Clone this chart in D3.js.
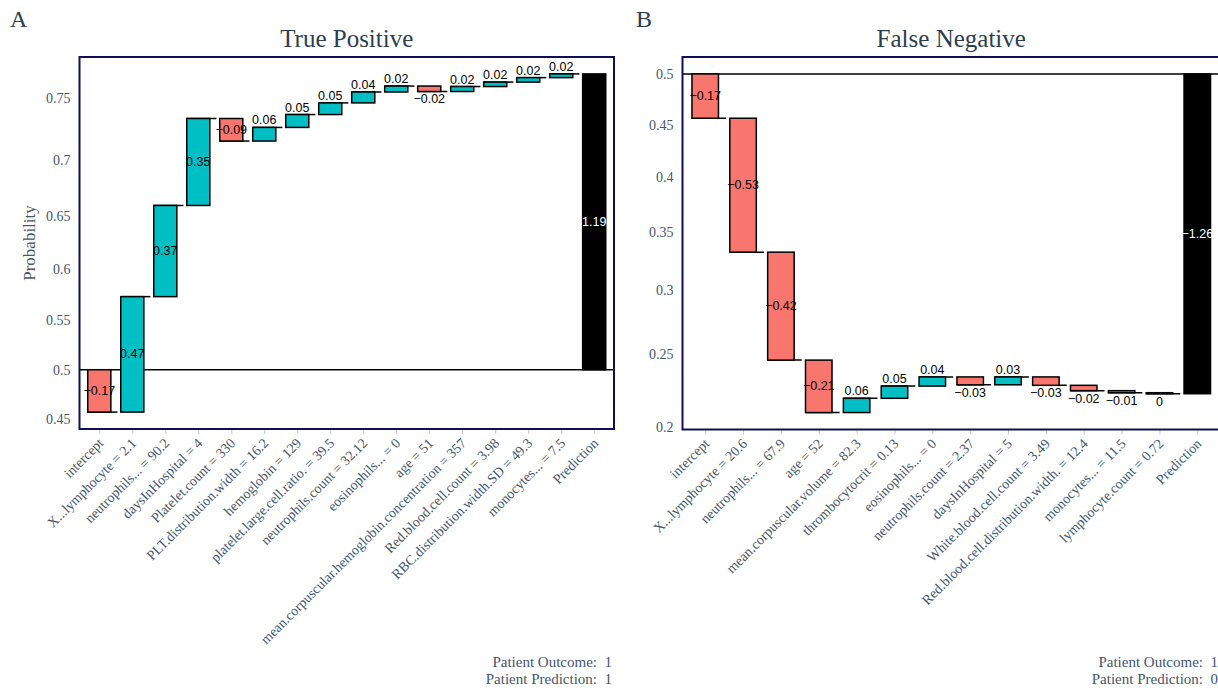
<!DOCTYPE html>
<html>
<head>
<meta charset="utf-8">
<script src="https://cdn.jsdelivr.net/npm/d3@7"></script>
<style>
  body { margin: 0; background: #fff; }
  svg { display: block; }
  text { font-family: "Liberation Serif", serif; }
</style>
</head>
<body>
<div id="chart"></div>
<script>
// Panel A: True Positive patient (contributions on log-odds scale)
const tpFeatures = ["intercept", "X...lymphocyte = 2.1", "neutrophils... = 90.2", "daysInHospital = 4",
  "Platelet.count = 330", "PLT.distribution.width = 16.2", "hemoglobin = 129",
  "platelet.large.cell.ratio. = 39.5", "neutrophils.count = 32.12", "eosinophils... = 0", "age = 51",
  "mean.corpuscular.hemoglobin.concentration = 357", "Red.blood.cell.count = 3.98",
  "RBC.distribution.width.SD = 49.3", "monocytes... = 7.5"];
const tpValues = [-0.171, 0.466, 0.368, 0.351, -0.091, 0.055, 0.052, 0.047, 0.044, 0.024, -0.022, 0.02, 0.018, 0.018, 0.015];
const tpTicks = [0.45, 0.5, 0.55, 0.6, 0.65, 0.7, 0.75];
const tpTickLabels = ["0.45", "0.5", "0.55", "0.6", "0.65", "0.7", "0.75"];
const tpPatient = ["Patient Outcome:\u00a0 1", "Patient Prediction:\u00a0 1"];

// Panel B: False Negative patient
const fnFeatures = ["intercept", "X...lymphocyte = 20.6", "neutrophils... = 67.9", "age = 52",
  "mean.corpuscular.volume = 82.3", "thrombocytocrit = 0.13", "eosinophils... = 0",
  "neutrophils.count = 2.37", "daysInHospital = 5", "White.blood.cell.count = 3.49",
  "Red.blood.cell.distribution.width. = 12.4", "monocytes... = 11.5", "lymphocyte.count = 0.72"];
const fnValues = [-0.174, -0.526, -0.424, -0.206, 0.056, 0.048, 0.036, -0.031, 0.031, -0.033, -0.021, -0.008, -0.004];
const fnTicks = [0.2, 0.25, 0.3, 0.35, 0.4, 0.45, 0.5];
const fnTickLabels = ["0.2", "0.25", "0.3", "0.35", "0.4", "0.45", "0.5"];
const fnPatient = ["Patient Outcome:\u00a0 1", "Patient Prediction:\u00a0 0"];

const width = 1218, height = 688;
const textColor = "#2c3e50";
const tickColor = "#46566b";
const posColor = "#00BFC4", negColor = "#F8766D";

const logit = p => Math.log(p / (1 - p));
const fmt = v => {
  const r = Math.round(v * 100) / 100;
  return String(r === 0 ? 0 : r).replace("-", "\u2212");
};

const svg = d3.select("#chart").append("svg")
  .attr("width", width)
  .attr("height", height);

function drawPanel(o) {
  const g = svg.append("g");
  const cats = o.features.concat(["Prediction"]);
  const ends = Array.from(d3.cumsum(o.values));
  const total = ends[ends.length - 1];
  const rows = o.values.map((v, i) => ({
    cat: cats[i], value: v, start: i ? ends[i - 1] : 0, end: ends[i], kind: v < 0 ? "neg" : "pos"
  }));
  rows.push({ cat: "Prediction", value: total, start: 0, end: total, kind: "pred" });

  const x = d3.scalePoint().domain(cats).range([o.left, o.right]).padding(0.6);
  const step = x.step();
  const bw = step * 0.7;

  const lo = d3.min(rows, d => Math.min(d.start, d.end));
  const hi = d3.max(rows, d => Math.max(d.start, d.end));
  const pad = (hi - lo) * 0.05;
  const y = d3.scaleLinear().domain([lo - pad, hi + pad]).range([o.bottom, o.top]);

  // panel letter + title
  g.append("text").attr("x", o.letterX).attr("y", 27)
    .style("font-size", "24px").attr("fill", textColor).text(o.letter);
  g.append("text").attr("x", (o.left + o.right) / 2).attr("y", 47)
    .attr("text-anchor", "middle").style("font-size", "25px").attr("fill", textColor).text(o.title);

  // y axis (probability ticks on logit scale)
  const yAxis = g.append("g")
    .attr("transform", `translate(${o.left},0)`)
    .call(d3.axisLeft(y).tickValues(o.ticks.map(logit)).tickFormat((d, i) => o.tickLabels[i]).tickSize(0).tickPadding(9));
  yAxis.select(".domain").remove();
  yAxis.selectAll("text").style("font-size", "14px").style("font-family", "Liberation Serif").attr("fill", tickColor);

  if (o.yLabel) {
    g.append("text")
      .attr("transform", `translate(35,${(o.top + o.bottom) / 2}) rotate(-90)`)
      .attr("text-anchor", "middle").style("font-size", "17px").attr("fill", tickColor)
      .text(o.yLabel);
  }

  // x axis
  const xAxis = g.append("g")
    .attr("transform", `translate(0,${o.bottom})`)
    .call(d3.axisBottom(x).tickSize(5).tickSizeOuter(0).tickFormat(""));
  xAxis.select(".domain").remove();
  xAxis.selectAll("line").attr("stroke", "#c8c8c8");

  g.selectAll("text.xlab")
    .data(cats)
    .enter()
    .append("text")
    .attr("class", "xlab")
    .attr("transform", d => `translate(${x(d) + 5},${o.bottom + 15}) rotate(-45)`)
    .attr("text-anchor", "end")
    .style("font-size", "14px")
    .attr("fill", tickColor)
    .text(d => d);

  // reference line at p = 0.5
  g.append("line")
    .attr("x1", o.left).attr("x2", o.right)
    .attr("y1", y(0)).attr("y2", y(0))
    .attr("stroke", "#000").attr("stroke-width", 1.5);

  // connectors
  g.selectAll("line.conn")
    .data(rows.filter(d => d.kind !== "pred"))
    .enter()
    .append("line")
    .attr("class", "conn")
    .attr("x1", d => x(d.cat) - bw / 2)
    .attr("x2", d => x(d.cat) + bw / 2 + step * 0.2)
    .attr("y1", d => y(d.end)).attr("y2", d => y(d.end))
    .attr("stroke", "#000").attr("stroke-width", 1.5);

  // bars
  g.selectAll("rect.bar")
    .data(rows)
    .enter()
    .append("rect")
    .attr("class", "bar")
    .attr("x", d => x(d.cat) - bw / 2)
    .attr("width", bw)
    .attr("y", d => y(Math.max(d.start, d.end)))
    .attr("height", d => Math.abs(y(d.start) - y(d.end)))
    .attr("fill", d => d.kind === "pred" ? "#000" : d.kind === "neg" ? negColor : posColor)
    .attr("stroke", "#000")
    .attr("stroke-width", 1.5);

  // value labels: inside big bars, outside (past the end) for small ones
  g.selectAll("text.val")
    .data(rows)
    .enter()
    .append("text")
    .attr("class", "val")
    .attr("x", d => x(d.cat))
    .attr("y", d => {
      if (d.kind === "pred" || Math.abs(d.value) >= 0.08) return y((d.start + d.end) / 2);
      return d.value >= 0 ? y(d.end) - 7 : y(d.end) + 8;
    })
    .attr("dominant-baseline", "central")
    .attr("text-anchor", "middle")
    .style("font-family", "Liberation Sans, Arial, sans-serif")
    .style("font-size", "12.5px")
    .attr("fill", d => d.kind === "pred" ? "#fff" : "#000")
    .text(d => fmt(d.value));

  // panel border
  g.append("rect")
    .attr("x", o.left).attr("y", o.top)
    .attr("width", o.right - o.left).attr("height", o.bottom - o.top)
    .attr("fill", "none").attr("stroke", "#0f0f58").attr("stroke-width", 2);

  // patient info
  g.selectAll("text.info")
    .data(o.patient)
    .enter()
    .append("text")
    .attr("class", "info")
    .attr("x", o.right - 2)
    .attr("y", (d, i) => 667 + i * 17)
    .attr("text-anchor", "end")
    .style("font-size", "15px")
    .attr("fill", tickColor)
    .text(d => d);
}

drawPanel({
  letter: "A", letterX: 10, title: "True Positive", yLabel: "Probability",
  features: tpFeatures, values: tpValues, ticks: tpTicks, tickLabels: tpTickLabels, patient: tpPatient,
  left: 79.5, right: 614, top: 57, bottom: 429
});

drawPanel({
  letter: "B", letterX: 636, title: "False Negative", yLabel: null,
  features: fnFeatures, values: fnValues, ticks: fnTicks, tickLabels: fnTickLabels, patient: fnPatient,
  left: 682.5, right: 1220, top: 57, bottom: 429.5
});
</script>
</body>
</html>
